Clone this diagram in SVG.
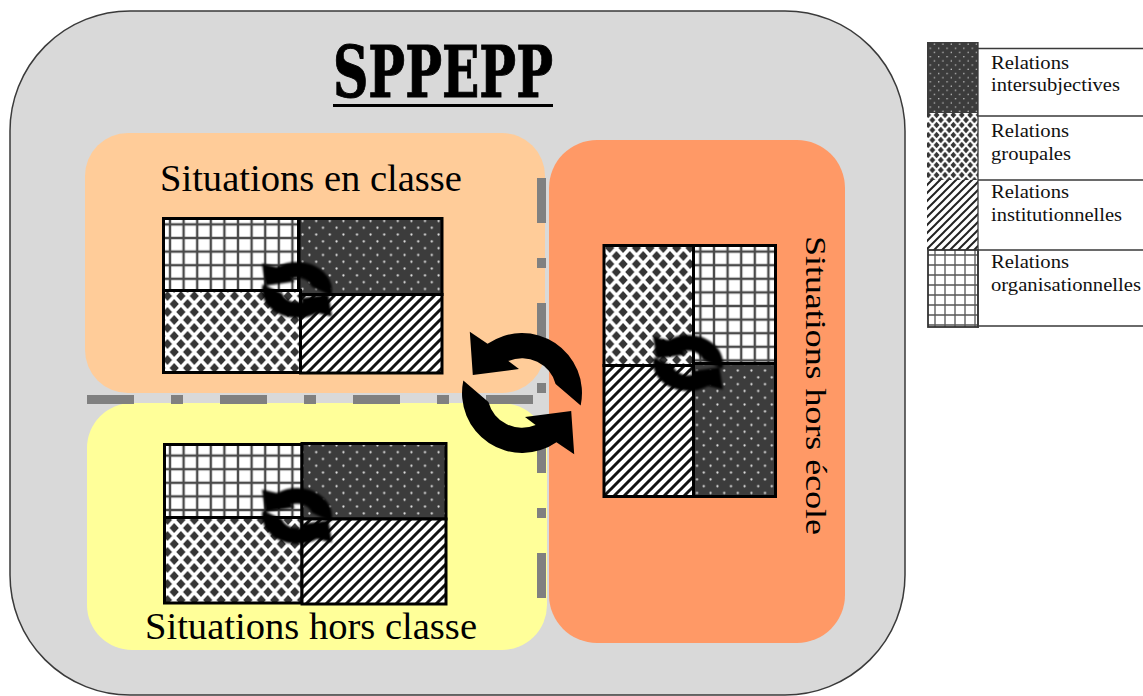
<svg xmlns="http://www.w3.org/2000/svg" width="1143" height="696" viewBox="0 0 1143 696">
  <defs>
    <style>
      .lbl{font-family:"Liberation Serif","Times New Roman",serif;fill:#000}
      .title{font-family:"DejaVu Serif","Liberation Serif",serif;font-weight:bold;font-size:71px;fill:#000;stroke:#000;stroke-width:1}
      .leg{font-family:"Liberation Serif","Times New Roman",serif;font-size:18px;fill:#111}
      .q{stroke:#000;stroke-width:3}
      .dash{fill:none;stroke:#808080;stroke-width:9}
      .rule{stroke:#3a3a3a;stroke-width:1.3;fill:none}
    </style>

    <!-- fill patterns for the four kinds of relations -->
    <pattern id="pGrid" width="13.6" height="13.6" patternUnits="userSpaceOnUse">
      <rect width="13.6" height="13.6" fill="#fff"/>
      <path d="M6.8,0V13.6M0,6.8H13.6" stroke="#4a4a4a" stroke-width="2.4" fill="none"/>
    </pattern>
    <pattern id="pDots" width="13.6" height="13.6" patternUnits="userSpaceOnUse">
      <rect width="13.6" height="13.6" fill="#3c3c3c"/>
      <circle cx="3.4" cy="3.4" r="1.1" fill="#e6e6e6"/>
      <circle cx="10.2" cy="10.2" r="1.1" fill="#e6e6e6"/>
    </pattern>
    <pattern id="pDiam" width="13.4" height="16" patternUnits="userSpaceOnUse">
      <rect width="13.4" height="16" fill="#fff"/>
      <path d="M6.7,3L11.3,8L6.7,13L2.1,8Z M0,-5L4.6,0L0,5L-4.6,0Z M13.4,-5L18,0L13.4,5L8.8,0Z M0,11L4.6,16L0,21L-4.6,16Z M13.4,11L18,16L13.4,21L8.8,16Z" fill="#353535"/>
    </pattern>
    <pattern id="pDiag" width="10" height="10" patternUnits="userSpaceOnUse">
      <rect width="10" height="10" fill="#fff"/>
      <path d="M-2.5,2.5L2.5,-2.5M0,10L10,0M7.5,12.5L12.5,7.5" stroke="#111" stroke-width="3"/>
    </pattern>

    <!-- finer versions used in the key -->
    <pattern id="kGrid" width="10" height="10" patternUnits="userSpaceOnUse">
      <rect width="10" height="10" fill="#fff"/>
      <path d="M5,0V10M0,5H10" stroke="#555" stroke-width="1.3" fill="none"/>
    </pattern>
    <pattern id="kDots" width="8.4" height="8.4" patternUnits="userSpaceOnUse">
      <rect width="8.4" height="8.4" fill="#3c3c3c"/>
      <circle cx="2.1" cy="2.1" r="0.7" fill="#ddd"/>
      <circle cx="6.3" cy="6.3" r="0.7" fill="#ddd"/>
    </pattern>
    <pattern id="kDiam" width="8.4" height="10" patternUnits="userSpaceOnUse">
      <rect width="8.4" height="10" fill="#fff"/>
      <path d="M4.2,1.8L7.1,5L4.2,8.2L1.3,5Z M0,-3.2L2.9,0L0,3.2L-2.9,0Z M8.4,-3.2L11.3,0L8.4,3.2L5.5,0Z M0,6.8L2.9,10L0,13.2L-2.9,10Z M8.4,6.8L11.3,10L8.4,13.2L5.5,10Z" fill="#353535"/>
    </pattern>
    <pattern id="kDiag" width="8" height="8" patternUnits="userSpaceOnUse">
      <rect width="8" height="8" fill="#fff"/>
      <path d="M-2,2L2,-2M0,8L8,0M6,10L10,6" stroke="#222" stroke-width="2"/>
    </pattern>

    <!-- two curved arrows turning round each other, unit size -->
    <g id="sync">
      <path d="M0.978,0.208 A1,1 0 0 0 -0.574,-0.819 L-0.87,-1.02 L-0.82,-0.30 L-0.05,-0.40 L-0.227,-0.534 A0.58,0.58 0 0 1 0.560,-0.150 Z"/>
      <path d="M-0.978,-0.208 A1,1 0 0 0 0.574,0.819 L0.87,1.02 L0.82,0.30 L0.05,0.40 L0.227,0.534 A0.58,0.58 0 0 1 -0.560,0.150 Z"/>
    </g>
    <!-- heavier variant for the small icons inside the squares -->
    <g id="sync-s">
      <path d="M0.978,0.208 A1,1 0 0 0 -0.574,-0.819 L-1.0,-0.95 L-0.90,-0.15 L-0.05,-0.30 L-0.17,-0.40 A0.44,0.44 0 0 1 0.425,-0.114 Z"/>
      <path d="M-0.978,-0.208 A1,1 0 0 0 0.574,0.819 L1.0,0.95 L0.90,0.15 L0.05,0.30 L0.17,0.40 A0.44,0.44 0 0 1 -0.425,0.114 Z"/>
    </g>
    <filter id="soft" x="-20%" y="-20%" width="140%" height="140%">
      <feGaussianBlur stdDeviation="0.8"/>
    </filter>
  </defs>

  <rect width="1143" height="696" fill="#fff"/>

  <!-- outer frame -->
  <g id="sppepp">
    <rect x="10" y="11" width="895" height="684" rx="120" ry="120" fill="#d9d9d9" stroke="#3a3a3a" stroke-width="1.5"/>
    <text class="title" x="333" y="97" textLength="220" lengthAdjust="spacingAndGlyphs">SPPEPP</text>
    <line x1="333" y1="105.5" x2="553" y2="105.5" stroke="#000" stroke-width="3"/>
  </g>

  <!-- in-class situations -->
  <g id="situations-en-classe">
    <rect x="85" y="133" width="460" height="260" rx="43" fill="#ffcc99"/>
    <text class="lbl" x="160" y="191" font-size="37" textLength="302" lengthAdjust="spacingAndGlyphs">Situations en classe</text>
    <rect class="q" x="163.5" y="218.5" width="135" height="72" fill="url(#pGrid)"/>
    <rect class="q" x="299" y="218.5" width="143" height="76" fill="url(#pDots)"/>
    <rect class="q" x="163.5" y="290.5" width="137" height="82" fill="url(#pDiam)"/>
    <rect class="q" x="300.5" y="294.5" width="141.5" height="78.5" fill="url(#pDiag)"/>
    <g filter="url(#soft)"><use href="#sync-s" transform="translate(297,290) scale(35,28)"/></g>
  </g>

  <!-- out-of-class situations -->
  <g id="situations-hors-classe">
    <rect x="87" y="403" width="460" height="247" rx="45" fill="#ffff99"/>
    <rect class="q" x="164.5" y="444.5" width="137.5" height="73" fill="url(#pGrid)"/>
    <rect class="q" x="302" y="443.5" width="144" height="75.5" fill="url(#pDots)"/>
    <rect class="q" x="164.5" y="517.5" width="137.5" height="85.5" fill="url(#pDiam)"/>
    <rect class="q" x="302" y="519" width="144" height="85" fill="url(#pDiag)"/>
    <g filter="url(#soft)"><use href="#sync-s" transform="translate(297,516) scale(35,28)"/></g>
    <text class="lbl" x="145" y="639" font-size="37" textLength="332" lengthAdjust="spacingAndGlyphs">Situations hors classe</text>
  </g>

  <!-- out-of-school situations -->
  <g id="situations-hors-ecole">
    <rect x="549" y="140" width="296" height="503" rx="48" fill="#ff9966"/>
    <rect class="q" x="604" y="245.5" width="89.5" height="120" fill="url(#pDiam)"/>
    <rect class="q" x="693.5" y="245.5" width="82" height="118" fill="url(#pGrid)"/>
    <rect class="q" x="604" y="365.5" width="89.5" height="131" fill="url(#pDiag)"/>
    <rect class="q" x="693.5" y="363.5" width="82" height="133" fill="url(#pDots)"/>
    <g filter="url(#soft)"><use href="#sync-s" transform="translate(688,363) scale(35,28)"/></g>
    <text class="lbl" font-size="29" transform="translate(806,236) rotate(90)" textLength="299" lengthAdjust="spacingAndGlyphs">Situations hors école</text>
  </g>

  <!-- dashed boundaries between the zones -->
  <g id="separators">
    <path class="dash" d="M87,399.5H533" stroke-dasharray="47 37 12 37"/>
    <path class="dash" d="M541.5,178V598" stroke-dasharray="45 35 10 35"/>
  </g>

  <!-- exchange between the zones -->
  <g id="connectors">
    <use href="#sync" transform="translate(522,393) scale(60)"/>
  </g>

  <!-- key -->
  <g id="legend">
    <rect x="927" y="42" width="51" height="71" fill="url(#kDots)"/>
    <rect x="927" y="113" width="51" height="67" fill="url(#kDiam)"/>
    <rect x="927" y="180" width="51" height="70" fill="url(#kDiag)"/>
    <rect x="928" y="250" width="50" height="77" fill="url(#kGrid)" stroke="#333" stroke-width="1.8"/>
    <path class="rule" d="M978,42V328 M978,48.5H1143 M978,116H1143 M978,180H1143 M978,250H1143 M978,326H1143"/>
    <text class="leg" x="991" y="69" textLength="78" lengthAdjust="spacingAndGlyphs">Relations</text>
    <text class="leg" x="991" y="91" textLength="129" lengthAdjust="spacingAndGlyphs">intersubjectives</text>
    <text class="leg" x="991" y="137" textLength="78" lengthAdjust="spacingAndGlyphs">Relations</text>
    <text class="leg" x="991" y="160" textLength="80" lengthAdjust="spacingAndGlyphs">groupales</text>
    <text class="leg" x="991" y="198" textLength="78" lengthAdjust="spacingAndGlyphs">Relations</text>
    <text class="leg" x="991" y="221" textLength="131" lengthAdjust="spacingAndGlyphs">institutionnelles</text>
    <text class="leg" x="991" y="268" textLength="78" lengthAdjust="spacingAndGlyphs">Relations</text>
    <text class="leg" x="991" y="291" textLength="150" lengthAdjust="spacingAndGlyphs">organisationnelles</text>
  </g>
</svg>
